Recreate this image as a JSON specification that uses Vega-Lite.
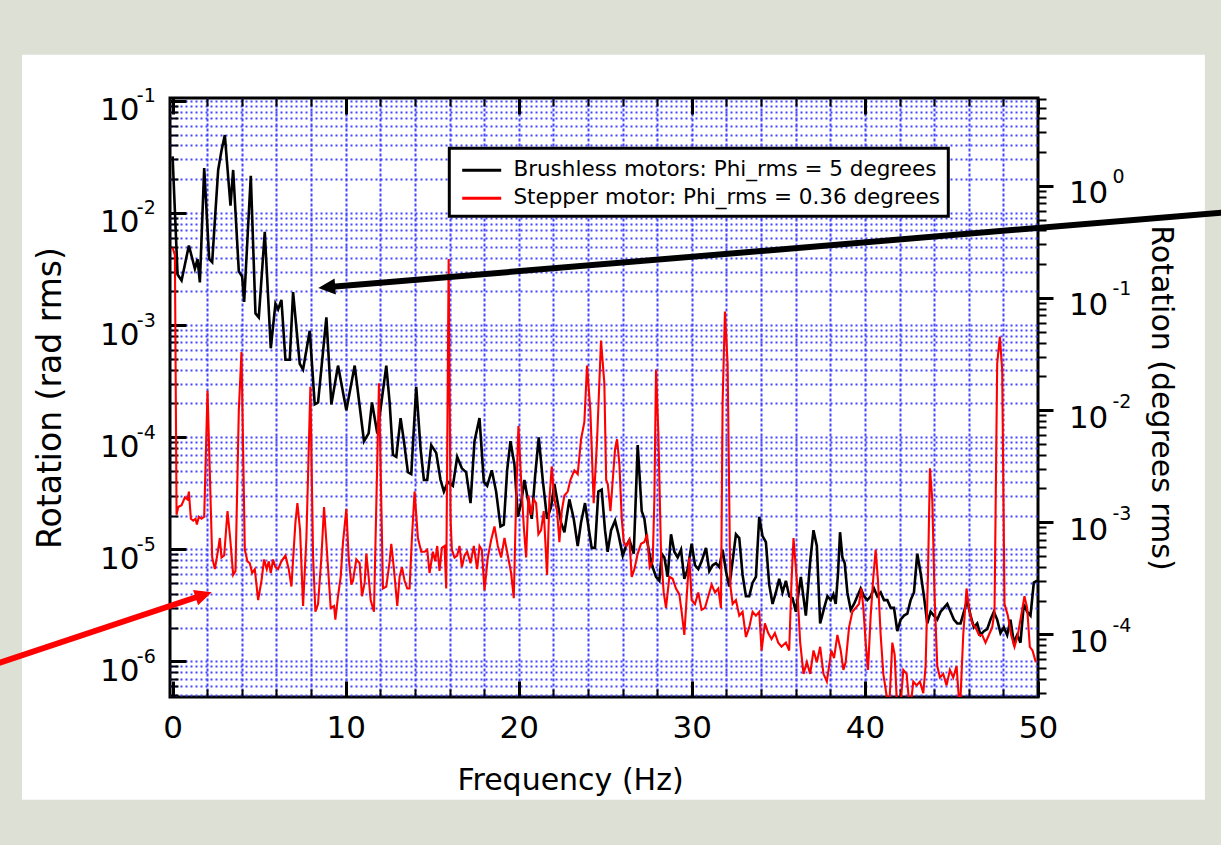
{
"$schema": "https://vega.github.io/schema/vega-lite/v6.json",
"width": 868, "height": 599,
"autosize": {"type": "none"},
"padding": {"left": 170, "top": 98, "right": 183, "bottom": 148},
"background": "white",
"config": {
  "view": {"stroke": "black", "strokeWidth": 3},
  "font": "DejaVu Sans",
  "axis": {"labelFont": "DejaVu Sans", "titleFont": "DejaVu Sans", "labelColor": "black", "titleColor": "black", "tickColor": "black", "titleFontWeight": "normal", "domain": false, "labelOverlap": false, "labelFlush": false, "labelBound": false}
},
"datasets": {
"brushless": [
{"f":0,"v":3.20e-2},{"f":0.287,"v":2.82e-3},{"f":0.518,"v":2.50e-3},{"f":0.941,"v":5.13e-3},{"f":1.287,"v":3.18e-3},{"f":1.441,"v":3.88e-3},{"f":1.576,"v":2.40e-3},{"f":1.826,"v":2.52e-2},{"f":2.114,"v":3.88e-3},{"f":2.287,"v":3.64e-3},{"f":2.633,"v":2.42e-2},{"f":2.826,"v":3.61e-2},{"f":3.018,"v":4.95e-2},{"f":3.345,"v":1.16e-2},{"f":3.499,"v":2.42e-2},{"f":3.826,"v":3.01e-3},{"f":4.018,"v":2.71e-3},{"f":4.134,"v":1.61e-3},{"f":4.518,"v":2.15e-2},{"f":4.788,"v":1.27e-3},{"f":4.98,"v":1.17e-3},{"f":5.326,"v":6.78e-3},{"f":5.672,"v":6.21e-4},{"f":5.942,"v":1.55e-3},{"f":6.096,"v":1.38e-3},{"f":6.288,"v":1.68e-3},{"f":6.519,"v":4.90e-4},{"f":6.769,"v":4.90e-4},{"f":6.961,"v":1.97e-3},{"f":7.346,"v":4.52e-4},{"f":7.538,"v":4.01e-4},{"f":7.923,"v":8.89e-4},{"f":8.211,"v":1.96e-4},{"f":8.404,"v":2.04e-4},{"f":8.885,"v":1.17e-3},{"f":9.173,"v":1.96e-4},{"f":9.558,"v":4.35e-4},{"f":10.039,"v":1.74e-4},{"f":10.52,"v":4.35e-4},{"f":11.058,"v":9.20e-5},{"f":11.327,"v":1.08e-4},{"f":11.52,"v":2.04e-4},{"f":11.828,"v":1.08e-4},{"f":12.347,"v":4.35e-4},{"f":12.539,"v":2.04e-4},{"f":12.731,"v":6.97e-5},{"f":12.923,"v":6.68e-5},{"f":13.173,"v":1.48e-4},{"f":13.366,"v":9.20e-5},{"f":13.596,"v":4.86e-5},{"f":13.789,"v":4.68e-5},{"f":14.077,"v":2.81e-4},{"f":14.327,"v":7.85e-5},{"f":14.52,"v":4.15e-5},{"f":14.712,"v":4.15e-5},{"f":14.943,"v":8.49e-5},{"f":15.231,"v":7.24e-5},{"f":15.481,"v":4.15e-5},{"f":15.674,"v":3.27e-5},{"f":15.905,"v":3.99e-5},{"f":16.193,"v":3.68e-5},{"f":16.443,"v":6.68e-5},{"f":16.712,"v":5.27e-5},{"f":16.962,"v":4.86e-5},{"f":17.212,"v":2.58e-5},{"f":17.443,"v":9.20e-5},{"f":17.732,"v":1.48e-4},{"f":17.982,"v":3.99e-5},{"f":18.174,"v":3.68e-5},{"f":18.443,"v":5.06e-5},{"f":18.693,"v":3.27e-5},{"f":18.944,"v":1.60e-5},{"f":19.136,"v":1.66e-5},{"f":19.328,"v":5.06e-5},{"f":19.521,"v":9.20e-5},{"f":19.751,"v":5.70e-5},{"f":19.944,"v":1.95e-5},{"f":20.136,"v":2.58e-5},{"f":20.328,"v":4.15e-5},{"f":20.521,"v":2.79e-5},{"f":20.752,"v":1.87e-5},{"f":20.944,"v":4.50e-5},{"f":21.155,"v":9.95e-5},{"f":21.386,"v":4.15e-5},{"f":21.636,"v":1.87e-5},{"f":21.867,"v":2.38e-5},{"f":22.059,"v":3.83e-5},{"f":22.252,"v":2.58e-5},{"f":22.444,"v":1.73e-5},{"f":22.637,"v":1.42e-5},{"f":22.925,"v":2.79e-5},{"f":23.175,"v":1.87e-5},{"f":23.406,"v":1.07e-5},{"f":23.598,"v":1.73e-5},{"f":23.829,"v":2.58e-5},{"f":24.022,"v":1.60e-5},{"f":24.214,"v":1.03e-5},{"f":24.406,"v":1.03e-5},{"f":24.598,"v":3.27e-5},{"f":24.791,"v":3.40e-5},{"f":24.983,"v":1.48e-5},{"f":25.137,"v":9.51e-6},{"f":25.335,"v":1.48e-5},{"f":25.565,"v":1.80e-5},{"f":25.758,"v":1.36e-5},{"f":26.008,"v":8.79e-6},{"f":26.2,"v":1.07e-5},{"f":26.393,"v":1.21e-5},{"f":26.643,"v":9.14e-6},{"f":26.873,"v":8.49e-5},{"f":27.104,"v":2.19e-5},{"f":27.258,"v":1.87e-5},{"f":27.412,"v":1.21e-5},{"f":27.547,"v":9.14e-6},{"f":27.739,"v":6.92e-6},{"f":27.931,"v":5.68e-6},{"f":28.124,"v":5.24e-6},{"f":28.258,"v":9.14e-6},{"f":28.412,"v":8.45e-6},{"f":28.605,"v":5.68e-6},{"f":28.797,"v":1.36e-5},{"f":28.989,"v":9.51e-6},{"f":29.182,"v":8.45e-6},{"f":29.374,"v":9.91e-6},{"f":29.566,"v":5.45e-6},{"f":29.759,"v":6.65e-6},{"f":29.989,"v":1.12e-5},{"f":30.182,"v":7.20e-6},{"f":30.374,"v":6.65e-6},{"f":30.566,"v":7.80e-6},{"f":30.817,"v":1.03e-5},{"f":31.009,"v":6.40e-6},{"f":31.201,"v":7.20e-6},{"f":31.394,"v":7.50e-6},{"f":31.586,"v":6.92e-6},{"f":31.778,"v":9.91e-6},{"f":31.971,"v":6.40e-6},{"f":32.163,"v":4.65e-6},{"f":32.355,"v":7.80e-6},{"f":32.548,"v":1.36e-5},{"f":32.74,"v":1.26e-5},{"f":32.932,"v":5.90e-6},{"f":33.125,"v":3.81e-6},{"f":33.317,"v":3.81e-6},{"f":33.509,"v":5.04e-6},{"f":33.702,"v":5.68e-6},{"f":33.894,"v":1.95e-5},{"f":34.086,"v":1.31e-5},{"f":34.279,"v":1.16e-5},{"f":34.471,"v":4.83e-6},{"f":34.663,"v":3.25e-6},{"f":34.856,"v":4.12e-6},{"f":35.048,"v":5.45e-6},{"f":35.24,"v":4.12e-6},{"f":35.433,"v":5.24e-6},{"f":35.625,"v":3.81e-6},{"f":35.817,"v":3.66e-6},{"f":36.01,"v":2.77e-6},{"f":36.298,"v":5.68e-6},{"f":36.587,"v":2.56e-6},{"f":36.837,"v":7.80e-6},{"f":37.029,"v":1.48e-5},{"f":37.222,"v":1.07e-5},{"f":37.414,"v":2.18e-6},{"f":37.645,"v":3.00e-6},{"f":37.837,"v":3.81e-6},{"f":38.025,"v":3.52e-6},{"f":38.179,"v":3.96e-6},{"f":38.313,"v":3.25e-6},{"f":38.448,"v":6.14e-6},{"f":38.563,"v":1.42e-5},{"f":38.698,"v":8.45e-6},{"f":38.833,"v":7.50e-6},{"f":38.986,"v":4.12e-6},{"f":39.179,"v":2.88e-6},{"f":39.371,"v":3.25e-6},{"f":39.563,"v":3.81e-6},{"f":39.756,"v":4.47e-6},{"f":39.948,"v":3.81e-6},{"f":40.14,"v":3.52e-6},{"f":40.333,"v":3.81e-6},{"f":40.525,"v":4.47e-6},{"f":40.718,"v":3.81e-6},{"f":40.91,"v":4.12e-6},{"f":41.102,"v":3.52e-6},{"f":41.295,"v":3.52e-6},{"f":41.487,"v":3.00e-6},{"f":41.679,"v":3.00e-6},{"f":41.872,"v":1.86e-6},{"f":42.064,"v":2.36e-6},{"f":42.256,"v":2.56e-6},{"f":42.449,"v":2.66e-6},{"f":42.641,"v":3.52e-6},{"f":42.833,"v":4.12e-6},{"f":43.026,"v":9.14e-6},{"f":43.218,"v":6.14e-6},{"f":43.41,"v":3.81e-6},{"f":43.603,"v":2.18e-6},{"f":43.795,"v":2.77e-6},{"f":43.987,"v":2.56e-6},{"f":44.18,"v":2.36e-6},{"f":44.372,"v":2.77e-6},{"f":44.564,"v":3.00e-6},{"f":44.757,"v":3.25e-6},{"f":44.949,"v":2.77e-6},{"f":45.141,"v":2.36e-6},{"f":45.334,"v":2.18e-6},{"f":45.526,"v":2.18e-6},{"f":45.718,"v":2.77e-6},{"f":45.911,"v":3.52e-6},{"f":46.103,"v":2.56e-6},{"f":46.295,"v":2.01e-6},{"f":46.488,"v":2.18e-6},{"f":46.68,"v":1.72e-6},{"f":46.873,"v":1.86e-6},{"f":47.065,"v":1.94e-6},{"f":47.257,"v":2.36e-6},{"f":47.45,"v":2.77e-6},{"f":47.642,"v":2.36e-6},{"f":47.834,"v":1.79e-6},{"f":48.027,"v":2.01e-6},{"f":48.219,"v":1.72e-6},{"f":48.411,"v":2.36e-6},{"f":48.604,"v":1.47e-6},{"f":48.796,"v":1.72e-6},{"f":48.988,"v":1.47e-6},{"f":49.181,"v":3.25e-6},{"f":49.373,"v":2.77e-6},{"f":49.566,"v":2.56e-6},{"f":49.758,"v":5.04e-6},{"f":49.95,"v":5.24e-6}
],
"stepper": [
{"f":0,"v":4.92e-3},{"f":0.133,"v":4.20e-3},{"f":0.229,"v":2.03e-5},{"f":0.325,"v":2.38e-5},{"f":0.518,"v":2.47e-5},{"f":0.71,"v":2.90e-5},{"f":0.864,"v":2.79e-5},{"f":0.941,"v":3.27e-5},{"f":1.056,"v":1.87e-5},{"f":1.191,"v":1.80e-5},{"f":1.326,"v":1.87e-5},{"f":1.402,"v":1.66e-5},{"f":1.518,"v":1.95e-5},{"f":1.672,"v":1.87e-5},{"f":1.826,"v":1.95e-5},{"f":2.018,"v":2.59e-4},{"f":2.287,"v":8.45e-6},{"f":2.441,"v":6.65e-6},{"f":2.595,"v":9.14e-6},{"f":2.73,"v":1.26e-5},{"f":2.826,"v":8.45e-6},{"f":2.98,"v":8.79e-6},{"f":3.172,"v":2.19e-5},{"f":3.326,"v":1.26e-5},{"f":3.499,"v":5.90e-6},{"f":3.634,"v":6.40e-6},{"f":3.826,"v":1.74e-4},{"f":3.98,"v":5.74e-4},{"f":4.172,"v":9.91e-6},{"f":4.326,"v":7.80e-6},{"f":4.461,"v":7.50e-6},{"f":4.595,"v":6.14e-6},{"f":4.749,"v":6.65e-6},{"f":4.942,"v":3.52e-6},{"f":5.134,"v":5.24e-6},{"f":5.288,"v":8.11e-6},{"f":5.442,"v":6.65e-6},{"f":5.557,"v":7.80e-6},{"f":5.672,"v":6.14e-6},{"f":5.807,"v":8.11e-6},{"f":5.942,"v":6.92e-6},{"f":6.096,"v":6.65e-6},{"f":6.288,"v":7.80e-6},{"f":6.519,"v":8.79e-6},{"f":6.711,"v":6.65e-6},{"f":6.865,"v":4.65e-6},{"f":7.096,"v":1.73e-5},{"f":7.211,"v":2.58e-5},{"f":7.365,"v":1.48e-5},{"f":7.538,"v":3.12e-6},{"f":7.731,"v":1.26e-5},{"f":7.961,"v":2.81e-4},{"f":8.115,"v":8.79e-6},{"f":8.25,"v":2.77e-6},{"f":8.404,"v":3.25e-6},{"f":8.596,"v":8.45e-6},{"f":8.75,"v":2.38e-5},{"f":8.942,"v":8.45e-6},{"f":9.135,"v":3.00e-6},{"f":9.327,"v":3.12e-6},{"f":9.404,"v":2.36e-6},{"f":9.558,"v":3.81e-6},{"f":9.712,"v":5.68e-6},{"f":9.846,"v":1.16e-5},{"f":10.039,"v":2.29e-5},{"f":10.173,"v":8.45e-6},{"f":10.327,"v":4.83e-6},{"f":10.423,"v":5.24e-6},{"f":10.615,"v":8.11e-6},{"f":10.808,"v":7.50e-6},{"f":10.943,"v":3.81e-6},{"f":11.097,"v":5.04e-6},{"f":11.193,"v":9.14e-6},{"f":11.327,"v":5.68e-6},{"f":11.443,"v":3.52e-6},{"f":11.635,"v":2.77e-6},{"f":11.923,"v":3.03e-4},{"f":12.154,"v":4.47e-6},{"f":12.347,"v":4.65e-6},{"f":12.539,"v":7.80e-6},{"f":12.635,"v":1.12e-5},{"f":12.789,"v":6.65e-6},{"f":12.981,"v":3.12e-6},{"f":13.116,"v":5.68e-6},{"f":13.25,"v":6.92e-6},{"f":13.404,"v":5.24e-6},{"f":13.558,"v":4.47e-6},{"f":13.693,"v":4.47e-6},{"f":13.827,"v":1.26e-5},{"f":13.981,"v":3.27e-5},{"f":14.173,"v":1.26e-5},{"f":14.366,"v":9.51e-6},{"f":14.558,"v":9.51e-6},{"f":14.712,"v":9.91e-6},{"f":14.847,"v":6.14e-6},{"f":15.039,"v":9.51e-6},{"f":15.174,"v":7.80e-6},{"f":15.289,"v":1.07e-5},{"f":15.424,"v":6.40e-6},{"f":15.558,"v":1.03e-5},{"f":15.712,"v":1.07e-5},{"f":15.808,"v":4.47e-6},{"f":15.95,"v":3.88e-3},{"f":16.06,"v":1.87e-5},{"f":16.135,"v":9.91e-6},{"f":16.289,"v":8.45e-6},{"f":16.443,"v":8.79e-6},{"f":16.578,"v":1.07e-5},{"f":16.712,"v":6.92e-6},{"f":16.866,"v":8.79e-6},{"f":17.02,"v":9.51e-6},{"f":17.212,"v":7.50e-6},{"f":17.405,"v":1.07e-5},{"f":17.597,"v":6.65e-6},{"f":17.732,"v":1.07e-5},{"f":17.866,"v":9.91e-6},{"f":18.02,"v":4.30e-6},{"f":18.213,"v":8.45e-6},{"f":18.405,"v":1.21e-5},{"f":18.597,"v":1.60e-5},{"f":18.79,"v":1.07e-5},{"f":18.982,"v":8.45e-6},{"f":19.174,"v":1.26e-5},{"f":19.367,"v":8.79e-6},{"f":19.559,"v":6.14e-6},{"f":19.713,"v":3.66e-6},{"f":19.848,"v":2.79e-5},{"f":19.982,"v":1.26e-4},{"f":20.136,"v":4.15e-5},{"f":20.29,"v":1.60e-5},{"f":20.425,"v":8.45e-6},{"f":20.559,"v":3.02e-5},{"f":20.713,"v":2.03e-5},{"f":20.867,"v":2.79e-5},{"f":21.002,"v":2.58e-5},{"f":21.136,"v":1.36e-5},{"f":21.29,"v":1.48e-5},{"f":21.444,"v":2.19e-5},{"f":21.636,"v":5.90e-6},{"f":21.771,"v":2.79e-5},{"f":21.906,"v":5.48e-5},{"f":22.059,"v":2.79e-5},{"f":22.213,"v":2.19e-5},{"f":22.348,"v":1.16e-5},{"f":22.483,"v":2.19e-5},{"f":22.637,"v":3.02e-5},{"f":22.829,"v":3.27e-5},{"f":22.983,"v":4.15e-5},{"f":23.213,"v":5.06e-5},{"f":23.406,"v":4.68e-5},{"f":23.598,"v":9.57e-5},{"f":23.791,"v":1.37e-4},{"f":23.945,"v":4.35e-4},{"f":24.137,"v":1.74e-4},{"f":24.329,"v":2.58e-5},{"f":24.522,"v":9.20e-5},{"f":24.752,"v":7.29e-4},{"f":24.945,"v":3.03e-4},{"f":25.05,"v":4.15e-5},{"f":25.142,"v":3.83e-5},{"f":25.296,"v":2.19e-5},{"f":25.431,"v":4.15e-5},{"f":25.565,"v":7.85e-5},{"f":25.681,"v":9.57e-5},{"f":25.816,"v":5.70e-5},{"f":25.95,"v":1.87e-5},{"f":26.066,"v":1.16e-5},{"f":26.219,"v":1.07e-5},{"f":26.393,"v":1.21e-5},{"f":26.527,"v":5.68e-6},{"f":26.681,"v":6.65e-6},{"f":26.873,"v":9.14e-6},{"f":27.066,"v":1.12e-5},{"f":27.258,"v":1.16e-5},{"f":27.412,"v":1.36e-5},{"f":27.566,"v":6.92e-6},{"f":27.739,"v":7.80e-6},{"f":27.835,"v":2.79e-5},{"f":27.931,"v":4.01e-4},{"f":28.066,"v":1.08e-4},{"f":28.22,"v":9.14e-6},{"f":28.374,"v":4.12e-6},{"f":28.508,"v":3.00e-6},{"f":28.701,"v":5.68e-6},{"f":28.893,"v":5.45e-6},{"f":29.085,"v":4.47e-6},{"f":29.278,"v":3.96e-6},{"f":29.412,"v":2.77e-6},{"f":29.566,"v":1.72e-6},{"f":29.72,"v":4.12e-6},{"f":29.855,"v":8.45e-6},{"f":29.989,"v":3.52e-6},{"f":30.182,"v":3.25e-6},{"f":30.374,"v":4.12e-6},{"f":30.566,"v":2.88e-6},{"f":30.759,"v":3.00e-6},{"f":30.951,"v":3.81e-6},{"f":31.143,"v":4.83e-6},{"f":31.336,"v":4.12e-6},{"f":31.528,"v":4.47e-6},{"f":31.682,"v":3.00e-6},{"f":31.778,"v":2.04e-4},{"f":31.913,"v":1.32e-3},{"f":32.067,"v":4.52e-4},{"f":32.221,"v":4.83e-6},{"f":32.355,"v":3.25e-6},{"f":32.548,"v":3.52e-6},{"f":32.74,"v":2.56e-6},{"f":32.932,"v":2.77e-6},{"f":33.125,"v":1.65e-6},{"f":33.317,"v":2.01e-6},{"f":33.509,"v":2.77e-6},{"f":33.702,"v":2.56e-6},{"f":33.894,"v":2.77e-6},{"f":34.029,"v":1.25e-6},{"f":34.221,"v":2.18e-6},{"f":34.413,"v":1.79e-6},{"f":34.606,"v":1.58e-6},{"f":34.798,"v":1.79e-6},{"f":34.99,"v":1.47e-6},{"f":35.183,"v":1.35e-6},{"f":35.433,"v":1.47e-6},{"f":35.625,"v":1.25e-6},{"f":35.76,"v":5.24e-6},{"f":35.875,"v":1.26e-5},{"f":36.067,"v":5.24e-6},{"f":36.26,"v":1.47e-6},{"f":36.452,"v":7.74e-7},{"f":36.645,"v":9.84e-7},{"f":36.837,"v":7.74e-7},{"f":37.029,"v":1.25e-6},{"f":37.222,"v":9.84e-7},{"f":37.414,"v":1.35e-6},{"f":37.606,"v":7.74e-7},{"f":37.799,"v":6.61e-7},{"f":37.929,"v":9.08e-7},{"f":38.063,"v":1.25e-6},{"f":38.217,"v":1.07e-6},{"f":38.409,"v":1.72e-6},{"f":38.602,"v":1.25e-6},{"f":38.756,"v":8.39e-7},{"f":38.89,"v":9.84e-7},{"f":39.083,"v":2.01e-6},{"f":39.275,"v":2.77e-6},{"f":39.467,"v":3.00e-6},{"f":39.66,"v":3.25e-6},{"f":39.794,"v":4.47e-6},{"f":39.91,"v":3.00e-6},{"f":40.044,"v":1.47e-6},{"f":40.179,"v":8.39e-7},{"f":40.333,"v":2.56e-6},{"f":40.487,"v":5.68e-6},{"f":40.621,"v":9.91e-6},{"f":40.756,"v":5.24e-6},{"f":40.91,"v":1.72e-6},{"f":41.064,"v":7.74e-7},{"f":41.198,"v":5.64e-7},{"f":41.391,"v":3.50e-7},{"f":41.583,"v":1.47e-6},{"f":41.718,"v":1.15e-6},{"f":41.872,"v":3.50e-7},{"f":42.025,"v":3.50e-7},{"f":42.218,"v":8.39e-7},{"f":42.41,"v":7.74e-7},{"f":42.602,"v":3.50e-7},{"f":42.795,"v":6.61e-7},{"f":42.987,"v":6.11e-7},{"f":43.179,"v":6.61e-7},{"f":43.372,"v":5.21e-7},{"f":43.507,"v":9.08e-7},{"f":43.641,"v":5.68e-6},{"f":43.756,"v":5.27e-5},{"f":43.891,"v":2.79e-5},{"f":44.026,"v":3.81e-6},{"f":44.18,"v":9.08e-7},{"f":44.334,"v":7.16e-7},{"f":44.526,"v":7.74e-7},{"f":44.718,"v":6.11e-7},{"f":44.911,"v":8.39e-7},{"f":45.103,"v":7.16e-7},{"f":45.295,"v":9.08e-7},{"f":45.488,"v":3.50e-7},{"f":45.68,"v":1.72e-6},{"f":45.872,"v":4.47e-6},{"f":46.007,"v":3.00e-6},{"f":46.199,"v":2.18e-6},{"f":46.392,"v":2.01e-6},{"f":46.584,"v":1.72e-6},{"f":46.776,"v":1.72e-6},{"f":46.969,"v":1.47e-6},{"f":47.161,"v":1.72e-6},{"f":47.353,"v":2.01e-6},{"f":47.488,"v":2.77e-6},{"f":47.642,"v":4.52e-4},{"f":47.796,"v":7.89e-4},{"f":47.93,"v":4.01e-4},{"f":48.065,"v":3.25e-6},{"f":48.257,"v":2.56e-6},{"f":48.45,"v":1.72e-6},{"f":48.642,"v":1.35e-6},{"f":48.834,"v":1.72e-6},{"f":49.027,"v":2.56e-6},{"f":49.219,"v":3.81e-6},{"f":49.373,"v":3.00e-6},{"f":49.527,"v":1.35e-6},{"f":49.681,"v":1.25e-6},{"f":49.873,"v":9.84e-7}
]
},
"resolve": {"axis": {"x": "independent", "y": "independent"}},
"layer": [
{
  "data": {"values": [{"x1": -12.17, "x2": 63.11, "y1": 0.8858, "y2": 1.702e-8}]},
  "mark": {"type": "rect", "fill": "transparent", "stroke": "#dce0d5", "strokeWidth": 120, "clip": false},
  "encoding": {
    "x": {"field": "x1", "type": "quantitative", "scale": {"domain": [-0.15, 50], "nice": false, "zero": false},
      "axis": {"orient": "bottom", "values": [0,2,4,6,8,10,12,14,16,18,20,22,24,26,28,30,32,34,36,38,40,42,44,46,48,50], "labels": false, "title": null, "domain": false, "ticks": true,
        "tickSize": {"condition": {"test": "datum.value % 10 === 0", "value": -16}, "value": -8},
        "tickWidth": {"condition": {"test": "datum.value % 10 === 0", "value": 3}, "value": 2},
        "grid": true, "gridColor": "#4646ff", "gridWidth": 2, "gridDash": [3, 2],
        "gridOpacity": {"condition": {"test": "datum.value <= 0 || datum.value >= 50", "value": 0}, "value": 1}}},
    "x2": {"field": "x2"},
    "y": {"field": "y1", "type": "quantitative", "scale": {"type": "log", "domain": [4.81e-7, 0.1061], "nice": false},
      "axis": {"orient": "left", "values": [5e-7,6e-7,7e-7,8e-7,9e-7,1e-6,2e-6,3e-6,4e-6,5e-6,6e-6,7e-6,8e-6,9e-6,1e-5,2e-5,3e-5,4e-5,5e-5,6e-5,7e-5,8e-5,9e-5,1e-4,2e-4,3e-4,4e-4,5e-4,6e-4,7e-4,8e-4,9e-4,0.001,0.002,0.003,0.004,0.005,0.006,0.007,0.008,0.009,0.01,0.02,0.03,0.04,0.05,0.06,0.07,0.08,0.09,0.1],
        "labels": false, "title": null, "domain": false, "ticks": true,
        "tickSize": {"condition": {"test": "abs(log(datum.value)/LN10 - round(log(datum.value)/LN10)) < 0.01", "value": -16}, "value": -8},
        "tickWidth": {"condition": {"test": "abs(log(datum.value)/LN10 - round(log(datum.value)/LN10)) < 0.01", "value": 3}, "value": 2},
        "grid": true, "gridColor": "#4646ff", "gridWidth": 2, "gridDash": [2, 3]}},
    "y2": {"field": "y2"}
  }
},
{
  "data": {"name": "brushless"},
  "mark": {"type": "line", "strokeWidth": 2.6, "clip": true},
  "encoding": {
    "x": {"field": "f", "type": "quantitative", "scale": {"domain": [-0.15, 50], "nice": false, "zero": false},
      "axis": {"orient": "bottom", "values": [0,10,20,30,40,50], "ticks": false, "grid": false, "domain": false, "labels": true,
        "labelFontSize": 31, "labelPadding": 16, "labelFlush": false,
        "title": "Frequency (Hz)", "titleFontSize": 30, "titlePadding": 22, "titleX": 400}},
    "y": {"field": "v", "type": "quantitative", "scale": {"type": "log", "domain": [4.81e-7, 0.1061], "nice": false},
      "axis": {"orient": "left", "values": [1e-6,1e-5,1e-4,0.001,0.01,0.1], "ticks": false, "grid": false, "domain": false,
        "labelExpr": "'10'", "labelFontSize": 31, "labelPadding": 31, "labelAlign": "right", "labelBaseline": "alphabetic", "labelOffset": 19,
        "title": "Rotation (rad rms)", "titleFontSize": 33, "titlePadding": 32}},
    "color": {"datum": "Brushless motors: Phi_rms = 5 degrees", "type": "nominal",
      "scale": {"domain": ["Brushless motors: Phi_rms = 5 degrees", "Stepper motor: Phi_rms = 0.36 degrees"], "range": ["#000000", "#ff0000"]},
      "legend": {"orient": "none", "legendX": 279.3, "legendY": 50.3, "title": null,
        "symbolType": "M-1.5,0H1.5", "symbolSize": 676, "symbolStrokeWidth": 3, "symbolOffset": 10.4,
        "labelOffset": 17.2, "labelFontSize": 21.5, "labelFont": "DejaVu Sans", "labelColor": "black", "labelLimit": 1000,
        "padding": 7.5, "rowPadding": 3, "fillColor": "white", "strokeColor": "black",
        "encode": {"legend": {"update": {"strokeWidth": {"value": 3}}}, "symbols": {"update": {"strokeWidth": {"value": 3}}}}}}
  }
},
{
  "data": {"name": "stepper"},
  "mark": {"type": "line", "strokeWidth": 2.1, "clip": true},
  "encoding": {
    "x": {"field": "f", "type": "quantitative", "scale": {"domain": [-0.15, 50], "nice": false, "zero": false},
      "axis": {"orient": "top", "values": [0,2,4,6,8,10,12,14,16,18,20,22,24,26,28,30,32,34,36,38,40,42,44,46,48,50], "labels": false, "title": null, "domain": false, "grid": false, "ticks": true,
        "tickSize": {"condition": {"test": "datum.value % 10 === 0", "value": -16}, "value": -8},
        "tickWidth": {"condition": {"test": "datum.value % 10 === 0", "value": 3}, "value": 2}}},
    "y": {"field": "v", "type": "quantitative", "scale": {"type": "log", "domain": [4.81e-7, 0.1061], "nice": false},
      "axis": {"orient": "left", "values": [1e-6,1e-5,1e-4,0.001,0.01,0.1], "ticks": false, "grid": false, "domain": false,
        "labelExpr": "'' + round(log(datum.value)/LN10)", "labelFontSize": 19, "labelPadding": 33.7, "labelAlign": "left", "labelBaseline": "alphabetic", "labelOffset": 1, "title": null}},
    "color": {"datum": "Stepper motor: Phi_rms = 0.36 degrees", "type": "nominal"}
  }
},
{
  "data": {"values": [{"x1": 62.07, "y1": 0.01052, "x2": 9.226, "y2": 0.002198}]},
  "mark": {"type": "rule", "color": "#000000", "strokeWidth": 6, "clip": false},
  "encoding": {
    "x": {"field": "x1", "type": "quantitative", "scale": {"domain": [-0.15, 50], "nice": false, "zero": false}, "axis": null},
    "x2": {"field": "x2"},
    "y": {"field": "y1", "type": "quantitative", "scale": {"type": "log", "domain": [4.81e-7, 0.1061], "nice": false},
      "axis": {"orient": "right", "values": [5.235988e-7,6.981317e-7,8.726646e-7,1.0471976e-6,1.2217305e-6,1.3962634e-6,1.5707963e-6,1.745329e-6,3.490659e-6,5.235988e-6,6.981317e-6,8.726646e-6,1.0471976e-5,1.2217305e-5,1.3962634e-5,1.5707963e-5,1.745329e-5,3.490659e-5,5.235988e-5,6.981317e-5,8.726646e-5,1.0471976e-4,1.2217305e-4,1.3962634e-4,1.5707963e-4,1.745329e-4,3.490659e-4,5.235988e-4,6.981317e-4,8.726646e-4,1.0471976e-3,1.2217305e-3,1.3962634e-3,1.5707963e-3,1.745329e-3,3.490659e-3,5.235988e-3,6.981317e-3,8.726646e-3,1.0471976e-2,1.2217305e-2,1.3962634e-2,1.5707963e-2,1.745329e-2,3.490659e-2,5.235988e-2,6.981317e-2,8.726646e-2,1.0471976e-1],
        "labels": false, "title": null, "domain": false, "grid": false, "ticks": true,
        "tickSize": {"condition": {"test": "abs(log(datum.value*57.29578)/LN10 - round(log(datum.value*57.29578)/LN10)) < 0.01", "value": 15}, "value": 8},
        "tickWidth": {"condition": {"test": "abs(log(datum.value*57.29578)/LN10 - round(log(datum.value*57.29578)/LN10)) < 0.01", "value": 3}, "value": 2}}},
    "y2": {"field": "y2"}
  }
},
{
  "data": {"values": [{"x1": -11.13, "y1": 8.49e-7, "x2": 1.49, "y2": 3.79e-6}]},
  "mark": {"type": "rule", "color": "#ff0000", "strokeWidth": 6, "clip": false},
  "encoding": {
    "x": {"field": "x1", "type": "quantitative", "scale": {"domain": [-0.15, 50], "nice": false, "zero": false}, "axis": null},
    "x2": {"field": "x2"},
    "y": {"field": "y1", "type": "quantitative", "scale": {"type": "log", "domain": [4.81e-7, 0.1061], "nice": false},
      "axis": {"orient": "right", "values": [1.745329e-6,1.745329e-5,1.745329e-4,1.745329e-3,1.745329e-2], "ticks": false, "grid": false, "domain": false,
        "labelExpr": "'10'", "labelFontSize": 31, "labelPadding": 30.4, "labelAlign": "left", "labelBaseline": "alphabetic", "labelOffset": 17,
        "title": "Rotation (degrees rms)", "titleFontSize": 30, "titlePadding": 38}},
    "y2": {"field": "y2"}
  }
},
{
  "data": {"values": [{"x": 8.417, "y": 0.002142}]},
  "mark": {"type": "point", "shape": "M0,0L1.8,-0.85L1.8,0.85Z", "filled": true, "size": 356, "angle": -4.76, "color": "#000000", "opacity": 1, "strokeWidth": 0, "clip": false},
  "encoding": {
    "x": {"field": "x", "type": "quantitative", "scale": {"domain": [-0.15, 50], "nice": false, "zero": false}, "axis": null},
    "y": {"field": "y", "type": "quantitative", "scale": {"type": "log", "domain": [4.81e-7, 0.1061], "nice": false},
      "axis": {"orient": "right", "values": [1.745329e-6,1.745329e-5,1.745329e-4,1.745329e-3,1.745329e-2], "ticks": false, "grid": false, "domain": false,
        "labelExpr": "'' + round(log(datum.value*57.29578)/LN10)", "labelFontSize": 19, "labelPadding": 74, "labelAlign": "left", "labelBaseline": "alphabetic", "labelOffset": -3, "title": null}}
  }
},
{
  "data": {"values": [{"x": 2.259, "y": 4.14e-6}]},
  "mark": {"type": "point", "shape": "M0,0L1.8,-0.85L1.8,0.85Z", "filled": true, "size": 356, "angle": 161.6, "color": "#ff0000", "opacity": 1, "strokeWidth": 0, "clip": false},
  "encoding": {
    "x": {"field": "x", "type": "quantitative", "scale": {"domain": [-0.15, 50], "nice": false, "zero": false}, "axis": null},
    "y": {"field": "y", "type": "quantitative", "scale": {"type": "log", "domain": [4.81e-7, 0.1061], "nice": false}, "axis": null}
  }
}
]
}
